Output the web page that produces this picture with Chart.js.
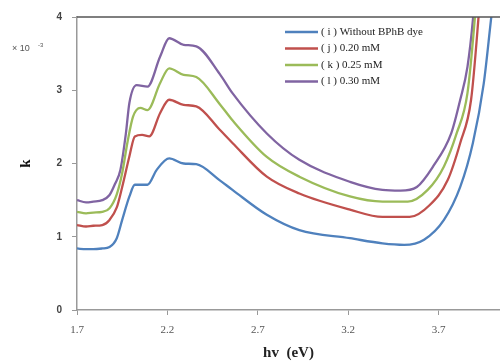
<!DOCTYPE html>
<html>
<head>
<meta charset="utf-8">
<script src="https://cdn.jsdelivr.net/npm/chart.js@4"></script>
<style>
  html, body { margin: 0; padding: 0; background: #fff; }
  #wrap { width: 500px; height: 362px; position: relative; }
</style>
</head>
<body>
<div id="wrap"><canvas id="kChart"></canvas></div>
<script>
// photon energy (eV) and k (x 10^-3), one pair of arrays per curve
const hvI = [1.70, 1.75, 1.79, 1.84, 1.88, 1.92, 1.95, 1.99, 2.02, 2.06, 2.09, 2.14, 2.21, 2.29, 2.36, 2.49, 2.56, 2.75, 2.93, 3.21, 3.39, 3.51, 3.62, 3.73, 3.82, 3.89, 3.95, 3.99, 4.01];
const kI  = [0.84, 0.83, 0.83, 0.84, 0.86, 0.98, 1.23, 1.55, 1.71, 1.71, 1.71, 1.91, 2.07, 2.00, 1.99, 1.77, 1.64, 1.30, 1.09, 0.98, 0.91, 0.89, 0.96, 1.23, 1.68, 2.28, 3.09, 3.96, 4.40];

const hvJ = [1.70, 1.75, 1.79, 1.84, 1.88, 1.92, 1.95, 1.99, 2.02, 2.06, 2.10, 2.16, 2.21, 2.29, 2.36, 2.49, 2.56, 2.75, 2.93, 3.21, 3.39, 3.54, 3.65, 3.75, 3.82, 3.88, 3.92, 3.93];
const kJ  = [1.16, 1.14, 1.15, 1.16, 1.23, 1.40, 1.68, 2.10, 2.37, 2.39, 2.37, 2.69, 2.87, 2.80, 2.78, 2.46, 2.28, 1.82, 1.59, 1.37, 1.27, 1.27, 1.43, 1.77, 2.28, 2.87, 3.96, 4.30];

const hvK = [1.70, 1.75, 1.79, 1.84, 1.88, 1.92, 1.95, 1.98, 2.01, 2.05, 2.09, 2.16, 2.21, 2.29, 2.36, 2.49, 2.56, 2.75, 2.93, 3.21, 3.39, 3.53, 3.64, 3.73, 3.80, 3.86, 3.90, 3.91];
const kK  = [1.34, 1.32, 1.33, 1.34, 1.39, 1.58, 1.87, 2.30, 2.64, 2.76, 2.73, 3.10, 3.30, 3.21, 3.18, 2.81, 2.59, 2.09, 1.82, 1.55, 1.48, 1.48, 1.64, 1.96, 2.41, 2.96, 3.96, 4.30];

const hvL = [1.70, 1.75, 1.79, 1.84, 1.88, 1.91, 1.94, 1.97, 1.99, 2.03, 2.09, 2.16, 2.21, 2.29, 2.36, 2.49, 2.56, 2.75, 2.93, 3.21, 3.39, 3.49, 3.58, 3.67, 3.77, 3.82, 3.86, 3.89, 3.90];
const kL  = [1.50, 1.47, 1.48, 1.50, 1.57, 1.72, 1.91, 2.40, 2.83, 3.07, 3.05, 3.46, 3.71, 3.62, 3.60, 3.22, 2.96, 2.41, 2.05, 1.75, 1.64, 1.63, 1.68, 1.96, 2.41, 2.87, 3.32, 3.96, 4.30];

const seriesLabels = ['( i ) Without BPhB dye', '( j ) 0.20 mM', '( k ) 0.25 mM', '( l ) 0.30 mM'];
const seriesColors = ['#4f81bd', '#c0504d', '#9bbb59', '#8064a2'];
const xTicks = [1.7, 2.2, 2.7, 3.2, 3.7];
const yTicks = [0, 1, 2, 3, 4];

const pairs = (xs, ys) => xs.map((x, i) => ({ x: x, y: ys[i] }));
const allData = [pairs(hvI, kI), pairs(hvJ, kJ), pairs(hvK, kK), pairs(hvL, kL)];

// top frame line, the "x 10^-3" note and the legend inside the plot
const extras = {
  id: 'extras',
  afterDraw(chart) {
    const ctx = chart.ctx;
    const a = chart.chartArea;
    ctx.save();
    ctx.strokeStyle = '#555';
    ctx.lineWidth = 1.5;
    ctx.beginPath();
    ctx.moveTo(a.left, a.top);
    ctx.lineTo(a.right, a.top);
    ctx.stroke();

    ctx.fillStyle = '#555';
    ctx.textBaseline = 'middle';
    ctx.font = '9px "Liberation Sans"';
    ctx.fillText('\u00d7 10', 12, 49);
    ctx.font = '6px "Liberation Sans"';
    ctx.fillText('-3', 38, 45);

    ctx.font = '11px "Liberation Serif"';
    chart.data.datasets.forEach((ds, i) => {
      const y = 32 + i * 16.5;
      ctx.strokeStyle = ds.borderColor;
      ctx.lineWidth = 2.5;
      ctx.beginPath();
      ctx.moveTo(285, y);
      ctx.lineTo(318, y);
      ctx.stroke();
      ctx.fillStyle = '#222';
      ctx.fillText(ds.label, 321, y);
    });
    ctx.restore();
  }
};

new Chart(document.getElementById('kChart'), {
  type: 'line',
  data: {
    datasets: allData.map((d, i) => ({
      label: seriesLabels[i],
      data: d,
      borderColor: seriesColors[i],
      backgroundColor: seriesColors[i],
      borderWidth: 2.3,
      pointRadius: 0,
      cubicInterpolationMode: 'monotone',
      fill: false
    }))
  },
  options: {
    responsive: true,
    maintainAspectRatio: false,
    animation: false,
    layout: { padding: { top: 17, right: 0, left: 0, bottom: 0 } },
    plugins: { legend: { display: false }, tooltip: { enabled: false } },
    scales: {
      x: {
        type: 'linear',
        min: 1.7,
        max: 4.04,
        afterBuildTicks: s => { s.ticks = xTicks.map(v => ({ value: v })); },
        afterFit: s => { s.height = 52; },
        ticks: {
          color: '#555',
          font: { family: 'Liberation Serif', size: 11 },
          padding: 9,
          maxRotation: 0,
          callback: v => v.toFixed(1)
        },
        grid: { display: true, drawOnChartArea: false, drawTicks: true, tickLength: 5, color: '#999' },
        border: { display: true, color: '#999', width: 1.5 },
        title: {
          display: true,
          text: 'hv  (eV)',
          color: '#222',
          font: { family: 'Liberation Serif', size: 15, weight: 'bold' },
          padding: { top: 0, bottom: 0 }
        }
      },
      y: {
        min: 0,
        max: 4,
        afterBuildTicks: s => { s.ticks = yTicks.map(v => ({ value: v })); },
        afterFit: s => { s.width = 77; },
        ticks: {
          color: '#444',
          font: { family: 'Liberation Sans', size: 10, weight: 'bold' },
          padding: 10
        },
        grid: { display: true, drawOnChartArea: false, drawTicks: true, tickLength: 5, color: '#999' },
        border: { display: true, color: '#999', width: 1.5 },
        title: {
          display: true,
          text: 'k',
          color: '#111',
          font: { family: 'Liberation Serif', size: 15, weight: 'bold' },
          padding: { top: 17, bottom: 0 }
        }
      }
    }
  },
  plugins: [extras]
});
</script>
</body>
</html>
